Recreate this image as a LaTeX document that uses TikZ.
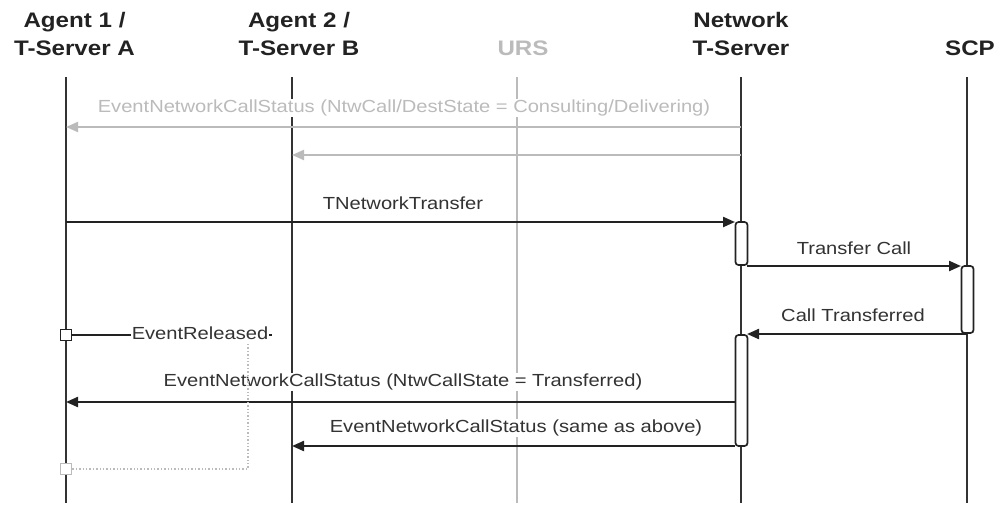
\documentclass[tikz,border=0pt]{standalone}
\usepackage{fontspec}
\newfontfamily\hdfont{Liberation Sans}[FakeStretch=1.15]
\newfontfamily\msgfont{Liberation Sans}[FakeStretch=1.15]
\usetikzlibrary{arrows.meta}
\definecolor{ink}{HTML}{222222}
\definecolor{life}{HTML}{333333}
\definecolor{faint}{HTML}{BBBBBB}
\definecolor{txt}{HTML}{333333}
\tikzset{
  hd/.style={font=\hdfont\fontsize{21}{28}\selectfont\bfseries, text=ink, align=center, inner sep=0pt},
  lifeln/.style={draw=life, line width=2.8pt},
  lifegray/.style={draw=faint, line width=2.2pt},
  msg/.style={draw=ink, line width=2.2pt, -{Triangle[length=12pt,width=10pt]}},
  msggray/.style={draw=faint, line width=2pt, -{Triangle[length=12pt,width=10pt]}},
  lbl/.style={font=\msgfont\fontsize{17.5}{20}\selectfont, text=txt, fill=white, inner sep=1pt},
  lblgray/.style={lbl, text=faint},
  act/.style={draw=ink, fill=white, line width=1.7pt, rounded corners=3pt, minimum width=12pt, inner sep=0pt},
  sq/.style={draw=ink, fill=white, line width=1.6pt, minimum size=11pt, inner sep=0pt},
  sqgray/.style={sq, draw=faint},
  dotl/.style={draw=faint, line width=1.4pt, dotted}
}
\begin{document}
\begin{tikzpicture}[x=1pt,y=-1pt]
\useasboundingbox (0,0) rectangle (1003,506);
% headers
\node[hd] (hA) at (74.5,34) {Agent 1 /\\T-Server A};
\node[hd] (hB) at (299,34) {Agent 2 /\\T-Server B};
\node[hd, text=faint] (hU) at (523,48) {URS};
\node[hd] (hN) at (741,34) {Network\\T-Server};
\node[hd] (hS) at (970,48) {SCP};
% lifeline ends
\coordinate (At) at (66,77);  \coordinate (Ab) at (66,503);
\coordinate (Bt) at (292,77); \coordinate (Bb) at (292,503);
\coordinate (Ut) at (517,77); \coordinate (Ub) at (517,503);
\coordinate (Nt) at (741,77); \coordinate (Nb) at (741,503);
\coordinate (St) at (967,77); \coordinate (Sb) at (967,503);
\draw[lifeln] (At) -- (Ab);
\draw[lifeln] (Bt) -- (Bb);
\draw[lifegray] (Ut) -- (Ub);
\draw[lifeln] (Nt) -- (Nb);
\draw[lifeln] (St) -- (Sb);
% message endpoints
\coordinate (m1s) at (741,127); \coordinate (m1e) at (66,127);
\coordinate (m2s) at (741,155); \coordinate (m2e) at (292,155);
\coordinate (m3s) at (66,222);  \coordinate (m3e) at (735,222);
\coordinate (m4s) at (747,266); \coordinate (m4e) at (961,266);
\coordinate (m5s) at (967,334); \coordinate (m5e) at (747,334);
\coordinate (m7s) at (735,402); \coordinate (m7e) at (66,402);
\coordinate (m8s) at (735,446); \coordinate (m8e) at (292,446);
% arrows
\draw[msggray] (m1s) -- (m1e);
\draw[msggray] (m2s) -- (m2e);
\draw[msg] (m3s) -- (m3e);
\draw[msg] (m4s) -- (m4e);
\draw[msg] (m5s) -- (m5e);
\draw[msg] (m7s) -- (m7e);
\draw[msg] (m8s) -- (m8e);
% labels
\node[lblgray] (l1) at (404,108) {EventNetworkCallStatus (NtwCall/DestState = Consulting/Delivering)};
\node[lbl] (l3) at (403,203) {TNetworkTransfer};
\node[lbl] (l4) at (854,248) {Transfer Call};
\node[lbl] (l5) at (853,315) {Call Transferred};
\node[lbl] (l7) at (403,382) {EventNetworkCallStatus (NtwCallState = Transferred)};
\node[lbl] (l8) at (516,428) {EventNetworkCallStatus (same as above)};
% activation boxes
\node[act, minimum height=43pt] (a1) at (741.5,243.5) {};
\node[act, minimum height=67pt] (a2) at (967.5,299.5) {};
\node[act, minimum height=111pt] (a3) at (741.5,390.5) {};
% EventReleased
\node[sq] (r1) at (66,335) {};
\coordinate (r1e) at (272,335);
\draw[draw=ink, line width=2pt] (r1.east) -- (r1e);
\node[lbl] (lr) at (200,333) {EventReleased};
\node[sqgray] (r2) at (66,469) {};
\coordinate (dtop) at (248,344);
\draw[dotl] (dtop) |- (r2.east);
\end{tikzpicture}
\end{document}
